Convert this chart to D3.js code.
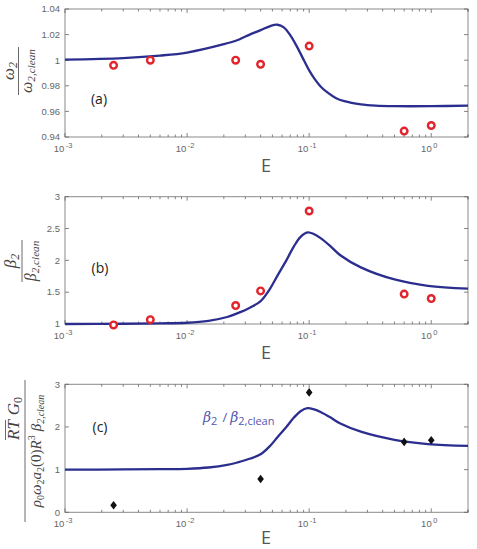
<!DOCTYPE html>
<html><head><meta charset="utf-8">
<script src="https://cdn.jsdelivr.net/npm/d3@7"></script>
<style>body{margin:0;background:#fff}svg{display:block}</style>
</head><body>
<svg id="c" width="477" height="549"></svg>
<script>
// ---- data ----
const xTickExps = [-3, -2, -1, 0];
const measE = [0.0025, 0.005, 0.025, 0.04, 0.1, 0.6, 1.0];
const omegaMeas = [0.996, 1.0, 1.0, 0.9968, 1.011, 0.9446, 0.949];
const betaMeas = [0.985, 1.068, 1.29, 1.52, 2.775, 1.47, 1.40];
const rtE = [0.0025, 0.04, 0.1, 0.6, 1.0];
const rtMeas = [0.165, 0.78, 2.81, 1.65, 1.69];
const omegaCurveE = [0.001, 0.003, 0.006, 0.01, 0.02, 0.026, 0.03, 0.04, 0.048, 0.055, 0.062, 0.0706, 0.08, 0.091, 0.1, 0.11, 0.124, 0.141, 0.165, 0.194, 0.265, 0.35, 0.5, 1.0, 2.0];
const omegaCurve = [1.0005, 1.0017, 1.0036, 1.006, 1.0125, 1.0158, 1.0185, 1.0235, 1.0267, 1.0277, 1.0257, 1.0190, 1.0100, 0.9995, 0.9920, 0.9858, 0.9795, 0.9748, 0.9705, 0.9680, 0.9655, 0.9645, 0.9641, 0.9641, 0.9645];
const betaCurveE = [0.001, 0.003, 0.006, 0.01, 0.015, 0.0213, 0.026, 0.033, 0.04, 0.048, 0.055, 0.065, 0.075, 0.085, 0.097, 0.11, 0.124, 0.15, 0.18, 0.265, 0.5, 0.94, 2.0];
const betaCurve = [1.0, 1.004, 1.01, 1.02, 1.05, 1.11, 1.17, 1.26, 1.36, 1.56, 1.76, 2.0, 2.22, 2.37, 2.44, 2.41, 2.35, 2.22, 2.08, 1.89, 1.70, 1.60, 1.555];
const yTicks1 = [0.94, 0.96, 0.98, 1, 1.02, 1.04];
const yTickLabels1 = ["0.94", "0.96", "0.98", "1", "1.02", "1.04"];
const yTicks2 = [1, 1.5, 2, 2.5, 3];
const yTickLabels2 = ["1", "1.5", "2", "2.5", "3"];
const yTicks3 = [0, 1, 2, 3];
const yTickLabels3 = ["0", "1", "2", "3"];

const svg = d3.select("#c");
const L = 65, R = 468;
const x = d3.scaleLog().domain([0.001, 2]).range([L, R]);
const curveColor = "#2b2e8e", axisColor = "#8a8a8a", textColor = "#666";

function panel(top, bottom, ydom, ticks, tickLabels, eY) {
  const y = d3.scaleLinear().domain(ydom).range([bottom, top]);
  const g = svg.append("g");
  g.append("rect").attr("x", L).attr("y", top).attr("width", R - L).attr("height", bottom - top)
    .attr("fill", "none").attr("stroke", axisColor).attr("stroke-width", 1);
  const minor = [];
  for (let e = -3; e <= 0; e++) for (let m = 1; m <= 9; m++) { const v = m * Math.pow(10, e); if (v <= 2) minor.push([v, m === 1]); }
  minor.push([2, false]);
  minor.forEach(([v, maj]) => {
    const px = x(v), len = maj ? 4 : 2.5;
    g.append("line").attr("x1", px).attr("x2", px).attr("y1", bottom).attr("y2", bottom - len).attr("stroke", "#666").attr("stroke-width", 0.8);
    g.append("line").attr("x1", px).attr("x2", px).attr("y1", top).attr("y2", top + len).attr("stroke", "#666").attr("stroke-width", 0.8);
  });
  xTickExps.forEach(e => {
    const t = g.append("text").attr("x", x(Math.pow(10, e)) - 2).attr("y", bottom + 15)
      .attr("text-anchor", "middle").attr("fill", textColor)
      .style("font-family", "Liberation Sans, Arial, sans-serif").style("font-size", "9.5px");
    t.append("tspan").text("10");
    t.append("tspan").attr("dx", 1.5).attr("dy", -4).style("font-size", "7.5px").text(String(e));
  });
  ticks.forEach((v, i) => {
    const py = y(v);
    g.append("line").attr("x1", L).attr("x2", L + 4).attr("y1", py).attr("y2", py).attr("stroke", "#666").attr("stroke-width", 0.8);
    g.append("line").attr("x1", R).attr("x2", R - 4).attr("y1", py).attr("y2", py).attr("stroke", "#666").attr("stroke-width", 0.8);
    g.append("text").attr("x", L - 5).attr("y", py + 3.3).attr("text-anchor", "end").attr("fill", textColor)
      .style("font-family", "Liberation Sans, Arial, sans-serif").style("font-size", "9.5px").text(tickLabels[i]);
  });
  g.append("text").attr("x", 266).attr("y", eY).attr("text-anchor", "middle").attr("fill", "#555")
    .style("font-family", "Open Sans, Liberation Sans, sans-serif").style("font-size", "18px").text("E");
  return {g, y};
}

function drawCurve(p, es, vs) {
  const line = d3.line().x(d => x(d[0])).y(d => p.y(d[1])).curve(d3.curveCatmullRom.alpha(0.5));
  p.g.append("path").attr("d", line(es.map((e, i) => [e, vs[i]])))
    .attr("fill", "none").attr("stroke", curveColor).attr("stroke-width", 2.3);
}
function drawCircles(p, es, vs) {
  es.forEach((e, i) => p.g.append("circle").attr("cx", x(e)).attr("cy", p.y(vs[i])).attr("r", 3.3)
    .attr("fill", "#fff").attr("stroke", "#e3232c").attr("stroke-width", 2.4));
}
function panelLabel(p, txt, cx, by) {
  p.g.append("text").attr("x", cx).attr("y", by).attr("text-anchor", "middle").attr("fill", "#222")
    .style("font-family", "Open Sans, Liberation Sans, sans-serif").style("font-size", "14px").text(txt);
}
const serif = "DejaVu Serif, Liberation Serif, serif";
function mathText(parent, xx, yy, parts, size) {
  const t = parent.append("text").attr("x", xx).attr("y", yy).attr("text-anchor", "middle").attr("fill", "#444")
    .style("font-family", "Liberation Serif, serif").style("font-style", "italic").style("font-size", size + "px");
  parts.forEach(p => {
    const s = t.append("tspan").text(p.t);
    if (p.sub) s.attr("dy", p.dy).style("font-size", (size * 0.7) + "px");
  });
  return t;
}

// Panel 1
const p1 = panel(9, 137, [0.94, 1.04], yTicks1, yTickLabels1, 172);
drawCurve(p1, omegaCurveE, omegaCurve);
drawCircles(p1, measE, omegaMeas);
panelLabel(p1, "(a)", 99, 104);
{
  const g = svg.append("g").attr("transform", "translate(0,71) rotate(-90)");
  mathText(g, 0, 14, [{t: "ω"}, {t: "2", sub: true, dy: 3}], 17);
  g.append("line").attr("x1", -24).attr("x2", 24).attr("y1", 18.5).attr("y2", 18.5).attr("stroke", "#444").attr("stroke-width", 0.8);
  mathText(g, 0, 32, [{t: "ω"}, {t: "2,clean", sub: true, dy: 3}], 16);
}

// Panel 2
const p2 = panel(196.7, 324, [1, 3], yTicks2, yTickLabels2, 359);
drawCurve(p2, betaCurveE, betaCurve);
drawCircles(p2, measE, betaMeas);
panelLabel(p2, "(b)", 100, 273);
{
  const g = svg.append("g").attr("transform", "translate(0,261) rotate(-90)");
  mathText(g, 0, 16, [{t: "β"}, {t: "2", sub: true, dy: 3}], 17);
  g.append("line").attr("x1", -21).attr("x2", 21).attr("y1", 22).attr("y2", 22).attr("stroke", "#444").attr("stroke-width", 0.8);
  mathText(g, 0, 36, [{t: "β"}, {t: "2,clean", sub: true, dy: 3}], 16);
}

// Panel 3
const p3 = panel(384.3, 512.3, [0, 3], yTicks3, yTickLabels3, 544);
drawCurve(p3, betaCurveE, betaCurve);
rtE.forEach((e, i) => {
  const cx = x(e), cy = p3.y(rtMeas[i]);
  p3.g.append("path").attr("d", `M${cx},${cy - 4.3}L${cx + 3.3},${cy}L${cx},${cy + 4.3}L${cx - 3.3},${cy}Z`).attr("fill", "#111");
});
panelLabel(p3, "(c)", 100, 432);
p3.g.append("text").attr("x", 203).attr("y", 422).attr("fill", "#5556b0")
  .style("font-family", "Open Sans, Liberation Sans, sans-serif").style("font-size", "13px")
  .call(t => {
    t.append("tspan").style("font-family", serif).style("font-style", "italic").style("font-size", "14px").text("β");
    t.append("tspan").attr("dy", 3).style("font-size", "11px").text("2");
    t.append("tspan").attr("dy", -3).attr("dx", 5).text("/");
    t.append("tspan").attr("dx", 3).style("font-family", serif).style("font-style", "italic").style("font-size", "14px").text("β");
    t.append("tspan").attr("dy", 3).style("font-size", "11px").text("2,clean");
  });
{
  const g = svg.append("g").attr("transform", "translate(0,451) rotate(-90)");
  const num = g.append("text").attr("x", 11).attr("y", 19).attr("text-anchor", "start").attr("fill", "#444")
    .style("font-family", "Liberation Serif, serif").style("font-style", "italic").style("font-size", "17px");
  num.append("tspan").text("RT");
  num.append("tspan").attr("dx", 5).text("G");
  num.append("tspan").attr("dy", 3).style("font-size", "12px").style("font-style", "normal").text("0");
  g.append("line").attr("x1", 11).attr("x2", 31).attr("y1", 5.5).attr("y2", 5.5).attr("stroke", "#444").attr("stroke-width", 0.8);
  g.append("line").attr("x1", -71).attr("x2", 71).attr("y1", 25).attr("y2", 25).attr("stroke", "#444").attr("stroke-width", 0.8);
  const den = g.append("text").attr("x", 0).attr("y", 41).attr("text-anchor", "middle").attr("fill", "#444")
    .style("font-family", "Liberation Serif, serif").style("font-style", "italic").style("font-size", "15px");
  den.append("tspan").text("ρ");
  den.append("tspan").attr("dy", 3).style("font-size", "10px").style("font-style", "normal").text("0");
  den.append("tspan").attr("dy", -3).text("ω");
  den.append("tspan").attr("dy", 3).style("font-size", "10px").style("font-style", "normal").text("2");
  den.append("tspan").attr("dy", -3).text("a");
  den.append("tspan").attr("dy", 3).style("font-size", "10px").style("font-style", "normal").text("2");
  den.append("tspan").attr("dy", -3).style("font-style", "normal").text("(0)");
  den.append("tspan").text("R");
  den.append("tspan").attr("dy", -6).style("font-size", "10px").style("font-style", "normal").text("3");
  den.append("tspan").attr("dy", 6).attr("dx", 4).text("β");
  den.append("tspan").attr("dy", 3).style("font-size", "10px").text("2,clean");
}
</script>
</body></html>
